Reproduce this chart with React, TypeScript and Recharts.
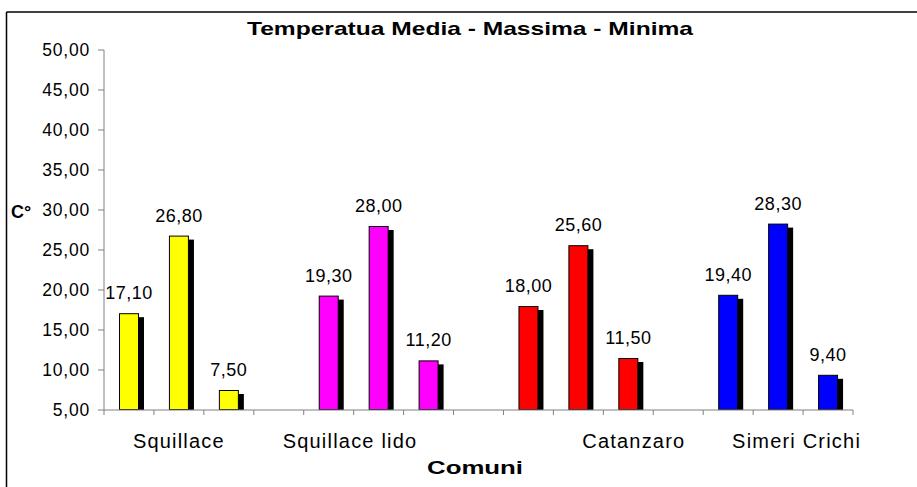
import React from "react";
import { BarChart, Bar, XAxis, YAxis, Cell, LabelList } from "recharts";

// ---- data ----
const comuni = ["Squillace", "Squillace lido", "Catanzaro", "Simeri Crichi"];
const coloriComuni = ["#FFFF00", "#FF00FF", "#FF0000", "#0000FF"];
const mediaValues = [17.1, 19.3, 18.0, 19.4];
const massimaValues = [26.8, 28.0, 25.6, 28.3];
const minimaValues = [7.5, 11.2, 11.5, 9.4];
const yTicks = [5, 10, 15, 20, 25, 30, 35, 40, 45, 50];
const titleText = "Temperatua Media - Massima - Minima";
const yLabelText = "C°";
const xLabelText = "Comuni";

// Excel-style layout: each bar sits in its own category slot, a blank slot between comuni
type Slot = { key: string; name: string; value: number | null; color: string };
const slots: Slot[] = [];
comuni.forEach((c, i) => {
  const vals = [mediaValues[i], massimaValues[i], minimaValues[i]];
  vals.forEach((v, j) => slots.push({ key: `${c}-${j}`, name: c, value: v, color: coloriComuni[i] }));
  if (i < comuni.length - 1) slots.push({ key: `gap-${i}`, name: "", value: null, color: "none" });
});

// ---- layout ----
const W = 917;
const H = 487;
const PLOT_LEFT = 104;
const PLOT_RIGHT = 853;
const PLOT_TOP = 50;
const PLOT_BOTTOM = 410;
const BAND = (PLOT_RIGHT - PLOT_LEFT) / slots.length;
const FONT = "'Liberation Sans', Arial, sans-serif";

const fmt = (v: number) => v.toFixed(2).replace(".", ",");

const ShadowBar = (props: any) => {
  const { x, y, width, height, fill } = props;
  if (!height || height <= 0) return null;
  return (
    <g>
      <rect x={x + 5} y={y + 4} width={width} height={Math.max(0, height - 4)} fill="#000" />
      <rect x={x + 0.5} y={y + 0.5} width={width - 1} height={height - 1} fill={fill} stroke="#000" strokeWidth={1} />
    </g>
  );
};

const ValueLabel = (props: any) => {
  const { x, y, width, value } = props;
  if (value === null || value === undefined) return null;
  return (
    <text x={x + width / 2} y={y - 14} textAnchor="middle" fontFamily={FONT} fontSize={18} letterSpacing={0.5} fill="#000">
      {fmt(Number(value))}
    </text>
  );
};

const XTick = (props: any) => {
  const { x, index } = props;
  const left = x - BAND / 2;
  const showLabel = index % 3 === 1;
  return (
    <g>
      <line x1={left} x2={left} y1={PLOT_BOTTOM} y2={PLOT_BOTTOM + 5} stroke="#808080" strokeWidth={1} />
      {index === slots.length - 1 && (
        <line x1={x + BAND / 2} x2={x + BAND / 2} y1={PLOT_BOTTOM} y2={PLOT_BOTTOM + 5} stroke="#808080" strokeWidth={1} />
      )}
      {showLabel && slots[index].name && (
        <text x={x - 46} y={PLOT_BOTTOM + 38} textAnchor="start" fontFamily={FONT} fontSize={20} letterSpacing={1.2} fill="#000">
          {slots[index].name}
        </text>
      )}
    </g>
  );
};

const YTick = (props: any) => {
  const { x, y, payload } = props;
  return (
    <text x={x} y={y} dy="0.355em" textAnchor="end" fontFamily={FONT} fontSize={17.5} letterSpacing={0.8} fill="#000">
      {fmt(Number(payload.value))}
    </text>
  );
};

export default function App() {
  return (
    <div style={{ position: "absolute", left: 0, top: 0, width: W, height: H, background: "#fff" }}>
      <BarChart
        width={W}
        height={H}
        data={slots}
        margin={{ top: PLOT_TOP, right: W - PLOT_RIGHT, bottom: 37, left: 44 }}
      >
        <XAxis
          dataKey="key"
          interval={0}
          tickLine={false}
          axisLine={{ stroke: "#808080", strokeWidth: 1 }}
          tick={<XTick />}
          height={40}
        />
        <YAxis
          domain={[5, 50]}
          ticks={yTicks}
          allowDataOverflow
          width={60}
          axisLine={{ stroke: "#808080", strokeWidth: 1 }}
          tickLine={{ stroke: "#808080", strokeWidth: 1 }}
          tickSize={6}
          tickMargin={8}
          tick={<YTick />}
        />
        <Bar dataKey="value" barSize={20} isAnimationActive={false} shape={<ShadowBar />}>
          {slots.map((s) => (
            <Cell key={s.key} fill={s.color} />
          ))}
          <LabelList dataKey="value" content={<ValueLabel />} />
        </Bar>
      </BarChart>
      <svg width={W} height={H} style={{ position: "absolute", left: 0, top: 0, pointerEvents: "none" }}>
        <line x1={6.5} y1={12} x2={W} y2={12} stroke="#000" strokeWidth={1.5} />
        <line x1={6.5} y1={12} x2={6.5} y2={H} stroke="#000" strokeWidth={1.5} />
        <text x={470} y={35} textAnchor="middle" fontFamily={FONT} fontWeight="bold" fontSize={18.5} textLength={446} lengthAdjust="spacingAndGlyphs" fill="#000">
          {titleText}
        </text>
        <text x={11} y={218} fontFamily={FONT} fontWeight="bold" fontSize={18} fill="#000">
          {yLabelText}
        </text>
        <text x={475} y={474} textAnchor="middle" fontFamily={FONT} fontWeight="bold" fontSize={18.5} textLength={96} lengthAdjust="spacingAndGlyphs" fill="#000">
          {xLabelText}
        </text>
      </svg>
    </div>
  );
}
